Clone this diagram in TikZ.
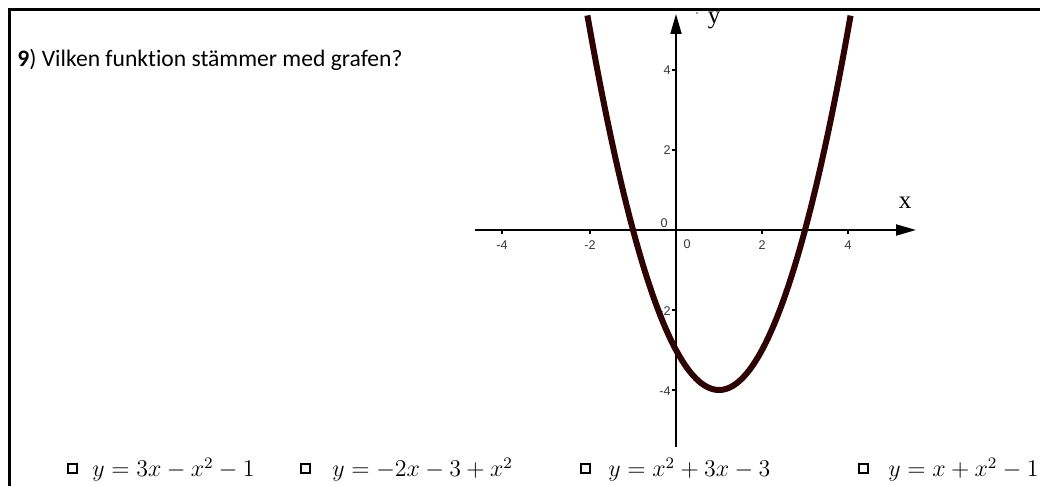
\documentclass[tikz,border=0pt]{standalone}
\usepackage[no-math]{fontspec}
\setmainfont{Carlito}[Ligatures=NoCommon]
\newfontfamily\tickfont{Liberation Sans}
\newfontfamily\axfont{Liberation Serif}
\usetikzlibrary{arrows.meta}
\definecolor{curvecol}{HTML}{2E0303}
\begin{document}
\begin{tikzpicture}[x=0.5pt,y=-0.5pt,
  frame/.style={line width=1.5pt},
  axis/.style={line width=1pt, -{Triangle[length=10pt,width=5.5pt]}},
  tickmark/.style={line width=0.8pt},
  ticklbl/.style={font=\tickfont\fontsize{6.3}{7}\selectfont, text=black!78, inner sep=0pt},
  axlbl/.style={font=\axfont\fontsize{12.5}{14}\selectfont, inner sep=0pt},
  optbox/.style={draw, line width=1pt, minimum size=4.5pt, inner sep=0pt},
  opt/.style={anchor=base west, inner sep=0pt, font=\fontsize{11.5}{14}\selectfont},
]
\useasboundingbox (0,0) rectangle (1040,486);
\fill[white] (0,0) rectangle (1040,486);
\draw[frame] (9.5,486) -- (9.5,9.5) -- (1040,9.5);

% question
\node[anchor=base west, inner sep=0pt, font=\fontsize{11.8}{14}\selectfont] (q) at (17,67) {\textbf{9}) Vilken funktion stämmer med grafen?};

% axes
\coordinate (xl) at (475,230);
\coordinate (xr) at (916,230);
\coordinate (yb) at (676,447);
\coordinate (yt) at (676,14);
\draw[axis] (xl) -- (xr);
\draw[axis] (yb) -- (yt);

% ticks
\foreach \px in {502,590,762,848} \draw[tickmark] (\px,230) -- (\px,234);
\foreach \py in {70,150,310,390} \draw[tickmark] (672,\py) -- (676,\py);

% tick labels
\node[ticklbl] (tx1) at (502,245) {-4};
\node[ticklbl] (tx2) at (590,245) {-2};
\node[ticklbl] (tx0) at (687,244) {0};
\node[ticklbl] (tx3) at (762,245) {2};
\node[ticklbl] (tx4) at (848,245) {4};
\node[ticklbl] (ty0) at (664,223) {0};
\node[ticklbl, anchor=east] (ty1) at (671,70) {4};
\node[ticklbl, anchor=east] (ty2) at (671,150) {2};
\node[ticklbl, anchor=east] (ty3) at (671,311) {-2};
\node[ticklbl, anchor=east] (ty4) at (671,391) {-4};

% axis labels
\node[axlbl] (xlab) at (905,203) {x};
\node[axlbl] (ylab) at (714,20) {y};
\fill[black!50] (697,13) circle (0.6pt);

% curve
\draw[curvecol, line width=3pt, domain=-2.06:4.06, samples=120, smooth, variable=\t]
  plot ({676+43*\t},{230-40*(\t*\t-2*\t-3)});

% options
\node[optbox] (b1) at (72,469) {};
\node[opt] (o1) at (92,477) {$y=3x-x^2-1$};
\node[optbox] (b2) at (305,469) {};
\node[opt] (o2) at (332,477) {$y=-2x-3+x^2$};
\node[optbox] (b3) at (585,469) {};
\node[opt] (o3) at (608,477) {$y=x^2+3x-3$};
\node[optbox] (b4) at (863,469) {};
\node[opt] (o4) at (888,477) {$y=x+x^2-1$};
\end{tikzpicture}
\end{document}
